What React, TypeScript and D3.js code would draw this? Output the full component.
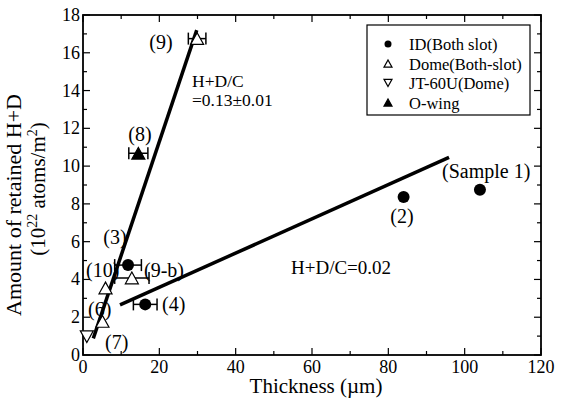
import React from "react";
import * as d3 from "d3";

const idPoints = [
  { x: 104, y: 8.75, label: "(Sample 1)" },
  { x: 84, y: 8.36, label: "(2)" },
  { x: 11.8, y: 4.76, label: "(3)", err: 3.5 },
  { x: 16.3, y: 2.68, label: "(4)", err: 3.1 },
];
const domePoints = [
  { x: 29.9, y: 16.75, label: "(9)", err: 2.3 },
  { x: 5.9, y: 3.55, label: "(10)" },
  { x: 12.8, y: 4.08, label: "(9-b)", err: 4.5 },
  { x: 5.1, y: 1.78, label: "(6)" },
];
const jtPoints = [{ x: 1.0, y: 0.97, label: "(7)" }];
const owingPoints = [{ x: 14.5, y: 10.68, label: "(8)", err: 2.5 }];

const steepLine = [
  [2.7, 0.88],
  [29.8, 17.2],
];
const shallowLine = [
  [9.7, 2.65],
  [95.9, 10.46],
];

const xTicks = [0, 20, 40, 60, 80, 100, 120];
const yTicks = [0, 2, 4, 6, 8, 10, 12, 14, 16, 18];
const legendItems = ["ID(Both slot)", "Dome(Both-slot)", "JT-60U(Dome)", "O-wing"];

const W = 565;
const H = 403;
const left = 83;
const right = 541;
const top = 15;
const bottom = 355;
const font = "'Liberation Serif', 'Times New Roman', serif";

function Tri({ cx, cy, s, down, fill }: { cx: number; cy: number; s: number; down?: boolean; fill: string }) {
  const h = s * 0.9;
  const pts = down
    ? `${cx - s / 2},${cy - h / 2} ${cx + s / 2},${cy - h / 2} ${cx},${cy + h / 2}`
    : `${cx - s / 2},${cy + h / 2} ${cx + s / 2},${cy + h / 2} ${cx},${cy - h / 2}`;
  return <polygon points={pts} fill={fill} stroke="#000" strokeWidth={1.2} />;
}

function T(props: any) {
  const { children, style, ...rest } = props;
  return (
    <text {...rest} style={{ fontFamily: font, ...(style || {}) }}>
      {children}
    </text>
  );
}

export default function App() {
  const x = d3.scaleLinear().domain([0, 120]).range([left, right]);
  const y = d3.scaleLinear().domain([0, 18]).range([bottom, top]);
  const line = d3.line<number[]>().x((d) => x(d[0])).y((d) => y(d[1]));
  const xMinor = d3.range(0, 121, 10);
  const yMinor = d3.range(0, 19, 1);

  const errBar = (p: { x: number; y: number; err?: number }, i: number) =>
    p.err ? (
      <g key={"e" + i} stroke="#000" strokeWidth={1.5}>
        <line x1={x(p.x - p.err)} x2={x(p.x + p.err)} y1={y(p.y)} y2={y(p.y)} />
        <line x1={x(p.x - p.err)} x2={x(p.x - p.err)} y1={y(p.y) - 6} y2={y(p.y) + 6} />
        <line x1={x(p.x + p.err)} x2={x(p.x + p.err)} y1={y(p.y) - 6} y2={y(p.y) + 6} />
      </g>
    ) : null;

  const labels = [
    { t: "(9)", x: 161, y: 49, a: "middle" },
    { t: "(8)", x: 140, y: 141, a: "middle" },
    { t: "(3)", x: 115, y: 244, a: "middle" },
    { t: "(10)", x: 86, y: 277, a: "start" },
    { t: "(9-b)", x: 144, y: 277, a: "start" },
    { t: "(6)", x: 88, y: 316, a: "start" },
    { t: "(4)", x: 162, y: 311, a: "start" },
    { t: "(7)", x: 105, y: 349, a: "start" },
    { t: "(2)", x: 402, y: 223, a: "middle" },
    { t: "(Sample 1)", x: 442, y: 178, a: "start" },
  ];

  return (
    <svg width={W} height={H} style={{ position: "absolute", left: 0, top: 0, background: "#fff" }}>
      <rect x={0} y={0} width={W} height={H} fill="#fff" />
      <rect x={left} y={top} width={right - left} height={bottom - top} fill="none" stroke="#000" strokeWidth={1.8} />
      {xMinor.map((v) => {
        const major = v % 20 === 0;
        const len = major ? 7 : 4;
        return (
          <g key={"xt" + v} stroke="#000" strokeWidth={1.2}>
            <line x1={x(v)} x2={x(v)} y1={bottom} y2={bottom - len} />
            <line x1={x(v)} x2={x(v)} y1={top} y2={top + len} />
          </g>
        );
      })}
      {yMinor.map((v) => {
        const major = v % 2 === 0;
        const len = major ? 7 : 4;
        return (
          <g key={"yt" + v} stroke="#000" strokeWidth={1.2}>
            <line x1={left} x2={left + len} y1={y(v)} y2={y(v)} />
            <line x1={right} x2={right - len} y1={y(v)} y2={y(v)} />
          </g>
        );
      })}
      {xTicks.map((v) => (
        <T key={"xl" + v} x={x(v)} y={bottom + 18} fontSize={18} textAnchor="middle">
          {v}
        </T>
      ))}
      {yTicks.map((v) => (
        <T key={"yl" + v} x={left - 3} y={y(v) + 6} fontSize={18} textAnchor="end">
          {v}
        </T>
      ))}
      <T x={316} y={393} fontSize={21} textAnchor="middle">
        Thickness  (µm)
      </T>
      <g transform="translate(21,205) rotate(-90)">
        <T x={0} y={0} fontSize={22} textAnchor="middle">
          Amount of retained H+D
        </T>
      </g>
      <g transform="translate(45,189) rotate(-90)">
        <T x={0} y={0} fontSize={21} textAnchor="middle">
          (10<tspan fontSize={14} dy={-8}>22</tspan>
          <tspan dy={8}> atoms/m</tspan>
          <tspan fontSize={14} dy={-8}>2</tspan>
          <tspan dy={8}>)</tspan>
        </T>
      </g>
      <path d={line(steepLine) || ""} stroke="#000" strokeWidth={3.5} fill="none" />
      <path d={line(shallowLine) || ""} stroke="#000" strokeWidth={3.5} fill="none" />
      {idPoints.map(errBar)}
      {domePoints.map(errBar)}
      {owingPoints.map(errBar)}
      {labels.map((l, i) => (
        <T key={"lb" + i} x={l.x} y={l.y} fontSize={20} textAnchor={l.a}>
          {l.t}
        </T>
      ))}
      {idPoints.map((p, i) => (
        <circle key={"id" + i} cx={x(p.x)} cy={y(p.y)} r={6} fill="#000" />
      ))}
      {domePoints.map((p, i) => (
        <Tri key={"dm" + i} cx={x(p.x)} cy={y(p.y)} s={13} fill="#fff" />
      ))}
      {jtPoints.map((p, i) => (
        <Tri key={"jt" + i} cx={x(p.x)} cy={y(p.y)} s={13} down fill="#fff" />
      ))}
      {owingPoints.map((p, i) => (
        <Tri key={"ow" + i} cx={x(p.x)} cy={y(p.y)} s={13} fill="#000" />
      ))}
      <T x={192} y={87} fontSize={17.5}>H+D/C</T>
      <T x={192} y={106} fontSize={17.5}>=0.13±0.01</T>
      <T x={291} y={274} fontSize={19}>H+D/C=0.02</T>
      <rect x={367} y={25} width={163} height={90} fill="#fff" stroke="#000" strokeWidth={1.2} />
      {legendItems.map((t, i) => {
        const cy = 45 + i * 19.5;
        return (
          <g key={"lg" + i}>
            {i === 0 && <circle cx={388} cy={cy - 1} r={3.5} fill="#000" />}
            {i === 1 && <Tri cx={388} cy={cy - 1} s={8} fill="#fff" />}
            {i === 2 && <Tri cx={388} cy={cy - 1} s={8} down fill="#fff" />}
            {i === 3 && <Tri cx={388} cy={cy - 1} s={8} fill="#000" />}
            <T x={409} y={cy + 5} fontSize={16.5}>
              {t}
            </T>
          </g>
        );
      })}
    </svg>
  );
}
